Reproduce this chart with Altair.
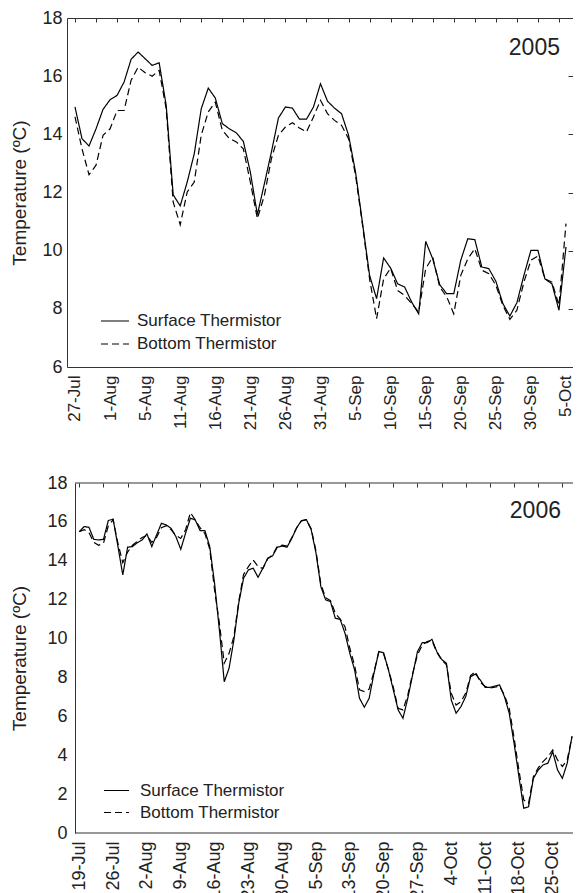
import altair as alt
import pandas as pd

FONT = "Liberation Sans"
INK = "#222222"
FRAME = "#333333"

series = ["Surface Thermistor", "Bottom Thermistor"]

# ---------------- 2005 ----------------
labels_2005 = ["27-Jul", "1-Aug", "5-Aug", "11-Aug", "16-Aug", "21-Aug", "26-Aug", "31-Aug",
               "5-Sep", "10-Sep", "15-Sep", "20-Sep", "25-Sep", "30-Sep", "5-Oct"]
label_days_2005 = [0, 5, 10, 15, 20, 25, 30, 35, 40, 45, 50, 55, 60, 65, 70]
top_ticks_2005 = [0, 3, 6, 9, 12, 15, 18, 21, 24, 27, 30, 33, 36, 39, 42, 45, 48, 51, 54, 57, 60, 63, 66, 69]

surface_2005 = [14.94, 13.85, 13.6, 14.19, 14.86, 15.19, 15.34, 15.8, 16.58, 16.83,
                16.6, 16.37, 16.46, 15.0, 11.92, 11.54, 12.36, 13.33, 14.88, 15.59,
                15.25, 14.37, 14.19, 14.05, 13.76, 12.7, 11.24, 12.3, 13.39, 14.56,
                14.94, 14.9, 14.52, 14.52, 14.94, 15.74, 15.14, 14.9, 14.71, 13.97,
                12.7, 10.93, 9.15, 8.35, 9.75, 9.4, 8.86, 8.75, 8.23, 7.83,
                10.32, 9.72, 8.83, 8.52, 8.52, 9.67, 10.41, 10.38, 9.44, 9.38,
                8.95, 8.18, 7.75, 8.21, 9.15, 10.01, 10.01, 9.03, 8.86, 7.95,
                10.13]
bottom_2005 = [14.6, 13.5, 12.61, 12.94, 13.97, 14.19, 14.82, 14.82, 15.86, 16.31,
               16.12, 16.0, 16.2, 14.88, 11.67, 10.89, 12.02, 12.36, 13.97, 14.77,
               15.11, 14.14, 13.86, 13.74, 13.5, 12.36, 11.1, 11.9, 13.16, 13.97,
               14.25, 14.4, 14.22, 14.08, 14.6, 15.17, 14.71, 14.48, 14.31, 13.85,
               12.59, 10.87, 9.03, 7.66, 9.03, 9.4, 8.63, 8.46, 8.18, 7.89,
               9.38, 9.78, 8.75, 8.41, 7.83, 9.15, 9.72, 10.07, 9.33, 9.21,
               8.81, 8.12, 7.64, 7.95, 8.92, 9.67, 9.82, 9.03, 8.92, 8.12,
               10.93]

# ---------------- 2006 ----------------
labels_2006 = ["19-Jul", "26-Jul", "2-Aug", "9-Aug", "16-Aug", "23-Aug", "30-Aug", "5-Sep",
               "13-Sep", "20-Sep", "27-Sep", "4-Oct", "11-Oct", "18-Oct", "25-Oct"]
label_days_2006 = [0, 7, 14, 21, 28, 35, 42, 49, 56, 63, 70, 77, 84, 91, 98]
top_ticks_2006 = [0, 5, 10, 15, 20, 25, 30, 35, 40, 45, 50, 55, 60, 65, 70, 75, 80, 85, 90, 95, 100]

surface_2006 = [15.5, 15.76, 15.72, 15.1, 15.07, 15.1, 16.07, 16.14, 14.73, 13.27,
                14.7, 14.73, 14.93, 15.07, 15.38, 14.73, 15.33, 15.93, 15.84, 15.67,
                15.24, 14.59, 15.42, 16.19, 16.1, 15.55, 15.55, 14.73, 12.84, 10.44,
                7.78, 8.47, 9.93, 11.81, 13.1, 13.53, 13.62, 13.15, 13.62, 14.13,
                14.25, 14.7, 14.76, 14.7, 15.16, 15.7, 16.07, 16.12, 15.6, 14.39,
                12.67, 11.99, 11.9, 11.04, 10.99, 10.27, 9.24, 8.38, 6.93, 6.47,
                6.93, 8.21, 9.33, 9.27, 8.38, 7.36, 6.33, 5.9, 6.93, 8.13,
                9.33, 9.79, 9.79, 9.96, 9.33, 8.93, 8.73, 6.84, 6.16, 6.5,
                7.02, 8.04, 8.18, 7.87, 7.49, 7.49, 7.56, 7.61, 7.02, 6.16,
                4.61, 2.9, 1.27, 1.35, 2.81, 3.24, 3.5, 3.59, 4.18, 3.24,
                2.81, 3.59, 4.97]
bottom_2006 = [15.5, 15.6, 15.45, 14.95, 14.8, 14.9, 15.8, 16.1, 14.9, 13.9,
               14.45, 14.8, 15.0, 15.2, 15.3, 14.95, 15.2, 15.7, 15.8, 15.6,
               15.3, 15.15, 15.6, 16.48, 16.1, 15.7, 15.4, 14.6, 12.5, 10.78,
               8.73, 9.24, 10.1, 11.9, 13.3, 13.7, 14.04, 13.7, 13.6, 14.1,
               14.3, 14.75, 14.8, 14.75, 15.2, 15.7, 16.05, 16.1, 15.65, 14.5,
               12.8, 12.1, 11.95, 11.3, 11.0, 10.61, 9.5, 8.6, 7.36, 7.27,
               7.4, 8.3, 9.3, 9.2, 8.4, 7.5, 6.41, 6.33, 7.1, 8.2,
               9.16, 9.67, 9.85, 9.9, 9.3, 8.9, 8.65, 7.19, 6.58, 6.75,
               7.2, 8.1, 8.3, 7.75, 7.55, 7.45, 7.5, 7.55, 7.1, 6.4,
               4.9, 3.24, 1.7, 1.52, 2.9, 3.35, 3.67, 3.92, 4.27, 3.76,
               3.42, 3.76, 4.97]


def long_frame(surface, bottom):
    n = len(surface)
    return pd.DataFrame({
        "day": list(range(n)) + list(range(len(bottom))),
        "temp": surface + bottom,
        "sensor": [series[0]] * n + [series[1]] * len(bottom),
    })


def label_expr(days, labels):
    pairs = ", ".join(f"'{d}': '{l}'" for d, l in zip(days, labels))
    return "{" + pairs + "}[toString(datum.value)]"


dash_scale = alt.Scale(domain=series, range=[[1, 0], [7, 4]])
y_title = "Temperature (ºC)"

# ======== top panel (2005) ========
W1, H1 = 506, 349
df05 = long_frame(surface_2005, bottom_2005)
xs05 = alt.Scale(domain=[-1.14, 71.0], nice=False, zero=False)
ys05 = alt.Scale(domain=[6, 18], nice=False, zero=False)

lines05 = alt.Chart(df05).mark_line(color="black", strokeWidth=1.2).encode(
    x=alt.X("day:Q", scale=xs05, axis=alt.Axis(
        values=label_days_2005, labelExpr=label_expr(label_days_2005, labels_2005),
        labelAngle=-90, labelFontSize=17, labelPadding=8, ticks=False, domain=False,
        grid=False, title=None, labelColor=INK, labelFont=FONT, minExtent=0)),
    y=alt.Y("temp:Q", scale=ys05, axis=alt.Axis(
        values=[6, 8, 10, 12, 14, 16, 18], labelFontSize=18, labelPadding=5, ticks=False,
        domain=False, grid=False, title=y_title, titleFontSize=19, titleFontWeight="normal",
        titlePadding=12, titleColor=INK, labelColor=INK, labelFont=FONT, titleFont=FONT,
        minExtent=0)),
    strokeDash=alt.StrokeDash("sensor:N", scale=dash_scale, legend=alt.Legend(
        orient="none", legendX=33, legendY=288, title=None, symbolType="stroke",
        symbolSize=784, symbolStrokeWidth=1.2, symbolStrokeColor="black",
        labelFontSize=17, labelFont=FONT, labelColor=INK, labelOffset=7,
        rowPadding=-7, padding=0)),
)

mirror05 = alt.Chart(df05).mark_line(opacity=0).encode(
    x=alt.X("day:Q", scale=xs05, axis=alt.Axis(
        orient="top", values=top_ticks_2005, labels=False, domain=False, tickSize=4,
        offset=-4, tickColor=FRAME, grid=False, title=None, minExtent=0, maxExtent=4)),
    y=alt.Y("temp:Q", scale=ys05, axis=alt.Axis(
        orient="right", values=[8, 10, 12, 14, 16], labels=False, domain=False,
        tickSize=5, offset=-5, tickColor=FRAME, grid=False, title=None,
        minExtent=0, maxExtent=5)),
    detail="sensor:N",
)

year05 = alt.Chart(pd.DataFrame({"label": ["2005"]})).mark_text(
    align="right", baseline="alphabetic", fontSize=23, font=FONT, color=INK
).encode(x=alt.value(493), y=alt.value(37), text="label:N")

top = alt.layer(lines05, mirror05, year05).resolve_axis(
    x="independent", y="independent"
).properties(width=W1, height=H1, view=alt.ViewBackground(stroke=FRAME, strokeWidth=1))

# ======== bottom panel (2006) ========
W2, H2 = 506, 350
df06 = long_frame(surface_2006, bottom_2006)
xs06 = alt.Scale(domain=[-2.55, 102.2], nice=False, zero=False)
ys06 = alt.Scale(domain=[0, 18], nice=False, zero=False)

lines06 = alt.Chart(df06).mark_line(color="black", strokeWidth=1.2).encode(
    x=alt.X("day:Q", scale=xs06, axis=alt.Axis(
        values=label_days_2006, labelExpr=label_expr(label_days_2006, labels_2006),
        labelAngle=-90, labelFontSize=18, labelPadding=8, ticks=False, domain=False,
        grid=False, title=None, labelColor=INK, labelFont=FONT, minExtent=0)),
    y=alt.Y("temp:Q", scale=ys06, axis=alt.Axis(
        values=[0, 2, 4, 6, 8, 10, 12, 14, 16, 18], labelFontSize=18, labelPadding=8,
        ticks=False, domain=True, domainColor=FRAME, offset=-8, grid=False,
        title=y_title, titleFontSize=19, titleFontWeight="normal", titlePadding=17,
        titleColor=INK, labelColor=INK, labelFont=FONT, titleFont=FONT, minExtent=0)),
    strokeDash=alt.StrokeDash("sensor:N", scale=dash_scale, legend=alt.Legend(
        orient="none", legendX=36, legendY=294, title=None, symbolType="stroke",
        symbolSize=625, symbolStrokeWidth=1.2, symbolStrokeColor="black",
        labelFontSize=17, labelFont=FONT, labelColor=INK, labelOffset=10,
        rowPadding=-3, padding=0)),
)

mirror06 = alt.Chart(df06).mark_line(opacity=0).encode(
    x=alt.X("day:Q", scale=xs06, axis=alt.Axis(
        orient="top", values=top_ticks_2006, labels=False, domain=False, tickSize=4,
        offset=-4, tickColor=FRAME, grid=False, title=None, minExtent=0, maxExtent=4)),
    y=alt.Y("temp:Q", scale=ys06, axis=None),
    detail="sensor:N",
)

frame_df = pd.DataFrame({"edge": ["top", "bottom"]})
top_line = alt.Chart(frame_df).transform_filter("datum.edge == 'top'").mark_rule(
    color=FRAME, strokeWidth=1).encode(x=alt.value(8), x2=alt.value(W2), y=alt.value(0))
bottom_line = alt.Chart(frame_df).transform_filter("datum.edge == 'bottom'").mark_rule(
    color=FRAME, strokeWidth=1).encode(x=alt.value(8), x2=alt.value(W2), y=alt.value(H2))

year06 = alt.Chart(pd.DataFrame({"label": ["2006"]})).mark_text(
    align="right", baseline="alphabetic", fontSize=23, font=FONT, color=INK
).encode(x=alt.value(494), y=alt.value(35), text="label:N")

bottom = alt.layer(lines06, mirror06, top_line, bottom_line, year06).resolve_axis(
    x="independent", y="independent"
).properties(width=W2, height=H2, view=alt.ViewBackground(stroke="transparent"))

chart = alt.vconcat(top, bottom, spacing=42).resolve_scale(
    x="independent", y="independent", strokeDash="independent"
).resolve_legend(strokeDash="independent").properties(
    padding={"left": 2, "top": 0, "right": -2, "bottom": -7}
).configure(font=FONT).configure_view(strokeWidth=1)

chart.save("out.html", embed_options={"renderer": "svg", "actions": False})
